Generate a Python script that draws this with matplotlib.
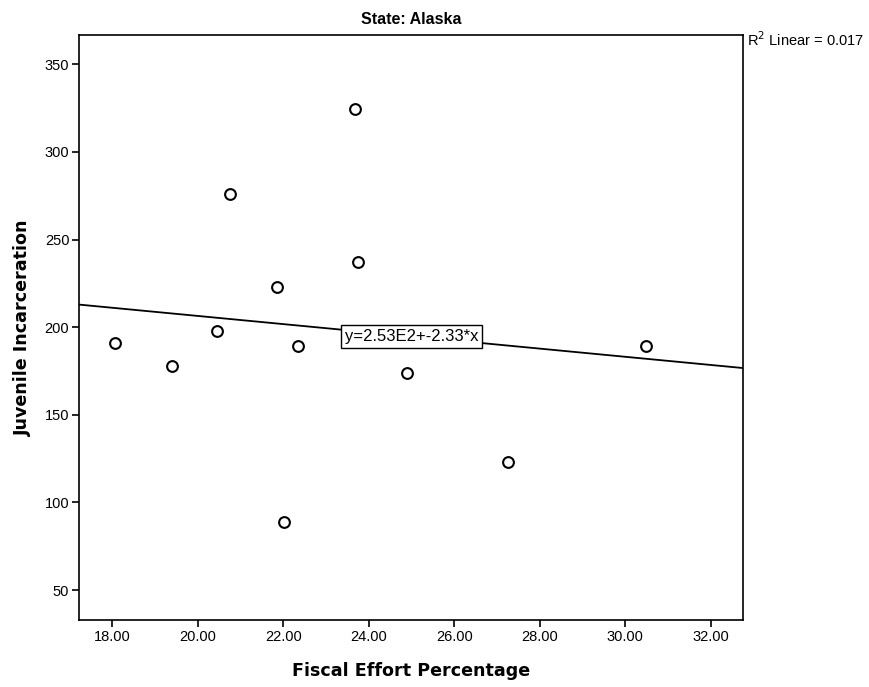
import numpy as np
import matplotlib.pyplot as plt

# Data (Alaska)
fiscal_effort = [18.06, 19.39, 20.45, 20.75, 21.85, 22.01, 22.34, 23.68, 23.74, 24.90, 27.25, 30.50]
juvenile_incarceration = [191, 178, 198, 276, 223, 89, 189, 324.5, 237, 174, 123, 189.5]

# Fit line as reported on the chart
intercept = 253.0
slope = -2.33
r_squared = 0.017

x_ticks = [18, 20, 22, 24, 26, 28, 30, 32]
y_ticks = [50, 100, 150, 200, 250, 300, 350]

fig = plt.figure(figsize=(8.69, 6.87), dpi=100)
ax = fig.add_axes([79 / 869, 1 - 620 / 687, (743 - 79) / 869, (620 - 35) / 687])

xmin, xmax = 17.22, 32.76
ymin, ymax = 32.9, 366.7

# Regression line across the whole axis
xs = np.array([xmin, xmax])
ax.plot(xs, intercept + slope * xs, color='black', linewidth=1.3, zorder=2)

# Points
ax.scatter(fiscal_effort, juvenile_incarceration, s=60, facecolors='white',
           edgecolors='black', linewidths=1.5, zorder=3)

ax.set_xlim(xmin, xmax)
ax.set_ylim(ymin, ymax)
ax.set_xticks(x_ticks)
ax.set_xticklabels(['%.2f' % t for t in x_ticks], fontfamily='Liberation Sans', fontsize=10.5)
ax.set_yticks(y_ticks)
ax.set_yticklabels([str(t) for t in y_ticks], fontfamily='Liberation Sans', fontsize=10.5)
ax.tick_params(direction='out', length=5, width=1.2, pad=2, colors='black')
for s in ax.spines.values():
    s.set_linewidth(1.2)

ax.set_xlabel('Fiscal Effort Percentage', fontsize=12.6, fontweight='bold', labelpad=13)
ax.set_ylabel('Juvenile Incarceration', fontsize=12.6, fontweight='bold', labelpad=9)
ax.set_title('State: Alaska', fontfamily='Liberation Sans', fontsize=11.5, fontweight='bold', pad=8)

# Equation label sitting on the line
xe = 25.0
ax.text(xe, intercept + slope * xe, 'y=2.53E2+-%.2f*x' % abs(slope),
        fontfamily='Liberation Sans', fontsize=12, ha='center', va='center', zorder=4,
        bbox=dict(boxstyle='square,pad=0.25', facecolor='white', edgecolor='black', linewidth=1))

fig.text(747 / 869, 1 - 40 / 687, 'R$^2$ Linear = %.3f' % r_squared,
         fontfamily='Liberation Sans', fontsize=10.5, ha='left', va='center')

fig.savefig('out.png', dpi=100)
